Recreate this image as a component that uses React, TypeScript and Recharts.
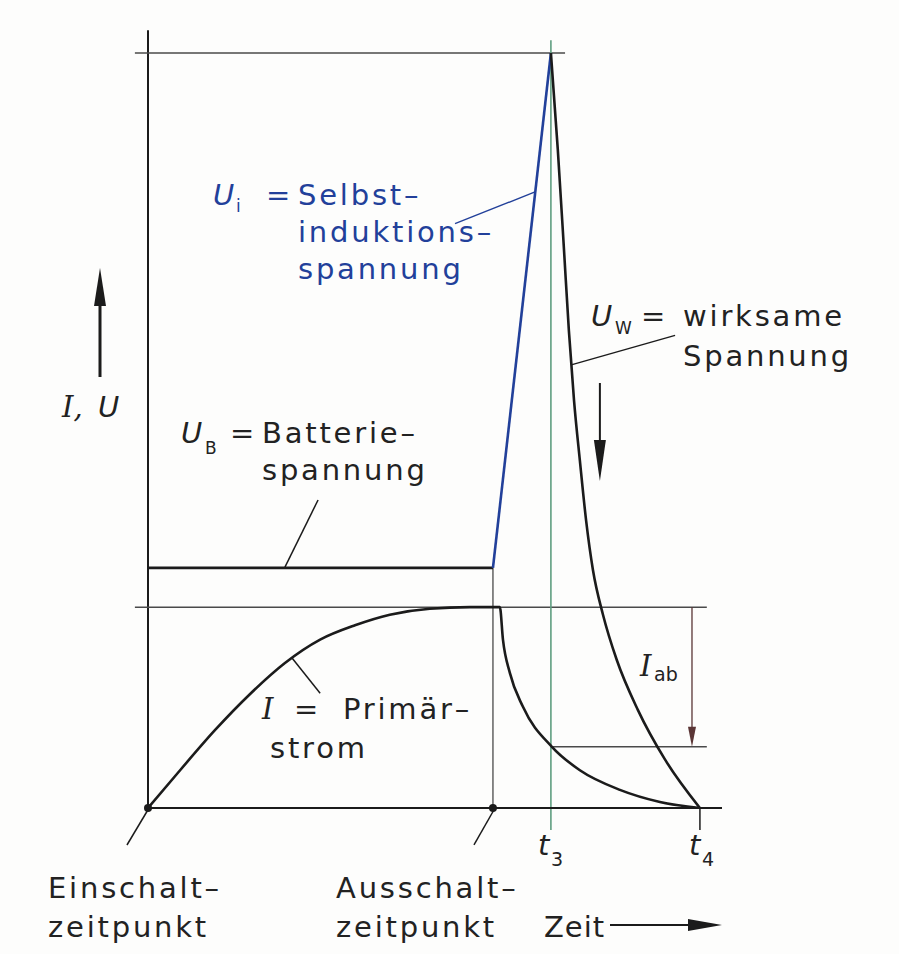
import React from "react";
import {
  ComposedChart,
  Line,
  XAxis,
  YAxis,
  ReferenceLine,
  ReferenceDot,
  Customized,
} from "recharts";

// time axis: 0 = Einschaltzeitpunkt, 10 = Ausschaltzeitpunkt
const T_ON = 0;
const T_OFF = 10;
const T3 = 11.68;
const T4 = 16;
const X_MAX = 16.64;
const Y_MAX = 100;

const U_BATT = 31.8;
const I_MAX = 26.6;
const I_T3 = 8.1;

const primaryCurrent = [
  { t: 0, v: 0 },
  { t: 0.93, v: 5.0 },
  { t: 1.94, v: 10.3 },
  { t: 2.96, v: 15.1 },
  { t: 3.97, v: 19.2 },
  { t: 4.99, v: 22.3 },
  { t: 6.0, v: 24.2 },
  { t: 7.01, v: 25.6 },
  { t: 8.17, v: 26.4 },
  { t: 9.33, v: 26.6 },
  { t: 10.2, v: 26.6 },
  { t: 10.29, v: 22.3 },
  { t: 10.49, v: 17.9 },
  { t: 10.87, v: 13.4 },
  { t: 11.71, v: 8.1 },
  { t: 12.52, v: 5.0 },
  { t: 13.68, v: 2.4 },
  { t: 14.84, v: 0.8 },
  { t: 16, v: 0 },
];

const batteryVoltage = [
  { t: T_ON, v: U_BATT },
  { t: T_OFF, v: U_BATT },
];

const inducedVoltage = [
  { t: T_OFF, v: U_BATT },
  { t: T3, v: 100 },
];

const effectiveVoltage = [
  { t: 11.68, v: 100 },
  { t: 11.88, v: 87.2 },
  { t: 12.06, v: 73.9 },
  { t: 12.2, v: 63.3 },
  { t: 12.35, v: 54.0 },
  { t: 12.52, v: 46.0 },
  { t: 12.7, v: 38.1 },
  { t: 12.9, v: 31.5 },
  { t: 13.19, v: 25.6 },
  { t: 13.59, v: 19.6 },
  { t: 14.2, v: 13.0 },
  { t: 14.99, v: 6.4 },
  { t: 16, v: 0 },
];

const W = 899;
const H = 954;
const M = { top: 53, right: 177, bottom: 146, left: 148 };

const px = (t: number) => M.left + (t / X_MAX) * (W - M.left - M.right);
const py = (v: number) => H - M.bottom - (v / Y_MAX) * (H - M.top - M.bottom);

const BLACK = "#1b1b1b";
const THIN = "#4a4a4a";
const BLUE = "#22409a";
const GREEN = "#5f9e80";
const FONT = "'DejaVu Sans', sans-serif";

const txt = {
  fontFamily: FONT,
  fontSize: 29,
  letterSpacing: 2.8,
  fill: "#222",
} as const;

const sub = { fontFamily: FONT, fontSize: 17, fill: "#222" } as const;
const ital = { fontFamily: FONT, fontSize: 29, fontStyle: "italic", fill: "#222" } as const;
const serifI = { fontFamily: "'DejaVu Serif', serif", fontSize: 29, fontStyle: "italic", fill: "#222" } as const;

const Annotations = () => (
  <g>
    {/* I, U axis arrow */}
    <line x1={100} y1={377} x2={100} y2={300} stroke={BLACK} strokeWidth={3} />
    <polygon points="100,268 94,306 106,306" fill={BLACK} />
    <text x={62} y={417} style={serifI}>I,</text>
    <text x={98} y={417} style={ital}>U</text>

    {/* U_W arrow */}
    <line x1={px(13.1)} y1={383} x2={px(13.1)} y2={445} stroke={BLACK} strokeWidth={2} />
    <polygon points={`${px(13.1)},481 ${px(13.1) - 6},440 ${px(13.1) + 6},440`} fill={BLACK} />

    {/* I_ab arrow head */}
    <polygon points={`${px(15.77)},${py(I_T3)} ${px(15.77) - 4},${py(I_T3) - 20} ${px(15.77) + 4},${py(I_T3) - 20}`} fill="#5a3535" />

    {/* Zeit arrow */}
    <line x1={610} y1={925} x2={695} y2={925} stroke={BLACK} strokeWidth={2} />
    <polygon points="722,925 688,919 688,931" fill={BLACK} />

    {/* U_i label */}
    <text x={213} y={205} style={{ ...ital, fill: BLUE }}>U</text>
    <text x={236} y={212} style={{ ...sub, fill: BLUE }}>i</text>
    <text x={266} y={205} style={{ ...txt, fill: BLUE }}>=</text>
    <text x={298} y={205} style={{ ...txt, fill: BLUE }}>Selbst–</text>
    <text x={298} y={242} style={{ ...txt, fill: BLUE }}>induktions–</text>
    <text x={298} y={279} style={{ ...txt, fill: BLUE }}>spannung</text>

    {/* U_B label */}
    <text x={181} y={443} style={ital}>U</text>
    <text x={205} y={454} style={sub}>B</text>
    <text x={230} y={443} style={txt}>=</text>
    <text x={262} y={443} style={txt}>Batterie–</text>
    <text x={262} y={480} style={txt}>spannung</text>

    {/* U_W label */}
    <text x={591} y={326} style={ital}>U</text>
    <text x={615} y={334} style={sub}>W</text>
    <text x={641} y={326} style={txt}>=</text>
    <text x={683} y={326} style={txt}>wirksame</text>
    <text x={683} y={366} style={txt}>Spannung</text>

    {/* I label */}
    <text x={262} y={719} style={serifI}>I</text>
    <text x={294} y={719} style={txt}>=</text>
    <text x={343} y={719} style={txt}>Primär–</text>
    <text x={270} y={758} style={txt}>strom</text>

    {/* I_ab */}
    <text x={640} y={676} style={serifI}>I</text>
    <text x={654} y={681} style={{ ...sub, fontSize: 19 }}>ab</text>

    {/* t3, t4 */}
    <text x={538} y={855} style={ital}>t</text>
    <text x={551} y={866} style={{ ...sub, fontSize: 19 }}>3</text>
    <text x={689} y={855} style={ital}>t</text>
    <text x={702} y={866} style={{ ...sub, fontSize: 19 }}>4</text>

    {/* bottom labels */}
    <text x={48} y={898} style={txt}>Einschalt–</text>
    <text x={48} y={937} style={txt}>zeitpunkt</text>
    <text x={336} y={898} style={txt}>Ausschalt–</text>
    <text x={336} y={937} style={txt}>zeitpunkt</text>
    <text x={544} y={937} style={{ ...txt, letterSpacing: 1 }}>Zeit</text>
  </g>
);

const seg = (t1: number, v1: number, t2: number, v2: number) => [
  { x: t1, y: v1 },
  { x: t2, y: v2 },
];

export default function App() {
  return (
    <div style={{ position: "absolute", left: 0, top: 0, width: W, height: H, background: "#fdfdfc" }}>
      <ComposedChart width={W} height={H} margin={M}>
        <XAxis dataKey="t" type="number" domain={[0, X_MAX]} hide allowDataOverflow />
        <YAxis type="number" domain={[0, Y_MAX]} hide allowDataOverflow />

        {/* frame lines */}
        <ReferenceLine segment={seg(0, 0, 0, 103)} stroke={BLACK} strokeWidth={2} ifOverflow="visible" />
        <ReferenceLine segment={seg(-0.38, 100, 12.09, 100)} stroke={THIN} strokeWidth={1.5} ifOverflow="visible" />
        <ReferenceLine segment={seg(-0.38, I_MAX, 16.2, I_MAX)} stroke={THIN} strokeWidth={1.5} ifOverflow="visible" />
        <ReferenceLine segment={seg(T3 + 0.03, I_T3, 16.2, I_T3)} stroke={THIN} strokeWidth={1.5} ifOverflow="visible" />
        <ReferenceLine segment={seg(T_OFF, U_BATT, T_OFF, -0.5)} stroke={THIN} strokeWidth={1.3} ifOverflow="visible" />
        <ReferenceLine segment={seg(T3, 101.7, T3, -2.9)} stroke={GREEN} strokeWidth={1.6} ifOverflow="visible" />
        <ReferenceLine segment={seg(T4, 0, T4, -2.9)} stroke={BLACK} strokeWidth={1.5} ifOverflow="visible" />
        <ReferenceLine segment={seg(0, 0, X_MAX, 0)} stroke={BLACK} strokeWidth={2.2} ifOverflow="visible" />
        <ReferenceLine segment={seg(15.77, I_MAX, 15.77, I_T3 + 2)} stroke="#5a3535" strokeWidth={1.3} ifOverflow="visible" />

        {/* leader lines */}
        <ReferenceLine segment={seg(0.03, 0, -0.61, -4.9)} stroke={BLACK} strokeWidth={1.5} ifOverflow="visible" />
        <ReferenceLine segment={seg(10.06, 0, 9.45, -4.9)} stroke={BLACK} strokeWidth={1.5} ifOverflow="visible" />
        <ReferenceLine segment={seg(8.9, 77.4, 11.22, 81.6)} stroke={BLUE} strokeWidth={1.4} ifOverflow="visible" />
        <ReferenceLine segment={seg(4.93, 40.8, 3.97, 31.9)} stroke={BLACK} strokeWidth={1.5} ifOverflow="visible" />
        <ReferenceLine segment={seg(15.28, 62.6, 12.27, 58.7)} stroke={BLACK} strokeWidth={1.4} ifOverflow="visible" />
        <ReferenceLine segment={seg(4.17, 19.9, 4.99, 15.2)} stroke={BLACK} strokeWidth={1.5} ifOverflow="visible" />

        <Line data={batteryVoltage} dataKey="v" type="linear" stroke={BLACK} strokeWidth={2.6} dot={false} isAnimationActive={false} />
        <Line data={inducedVoltage} dataKey="v" type="linear" stroke={BLUE} strokeWidth={2.6} dot={false} isAnimationActive={false} />
        <Line data={effectiveVoltage} dataKey="v" type="monotone" stroke={BLACK} strokeWidth={2.6} dot={false} isAnimationActive={false} />
        <Line data={primaryCurrent} dataKey="v" type="monotone" stroke={BLACK} strokeWidth={2.6} dot={false} isAnimationActive={false} />

        <ReferenceDot x={T_ON} y={0} r={4} fill={BLACK} stroke="none" ifOverflow="visible" />
        <ReferenceDot x={T_OFF} y={0} r={4} fill={BLACK} stroke="none" ifOverflow="visible" />

        <Customized component={<Annotations />} />
      </ComposedChart>
    </div>
  );
}
